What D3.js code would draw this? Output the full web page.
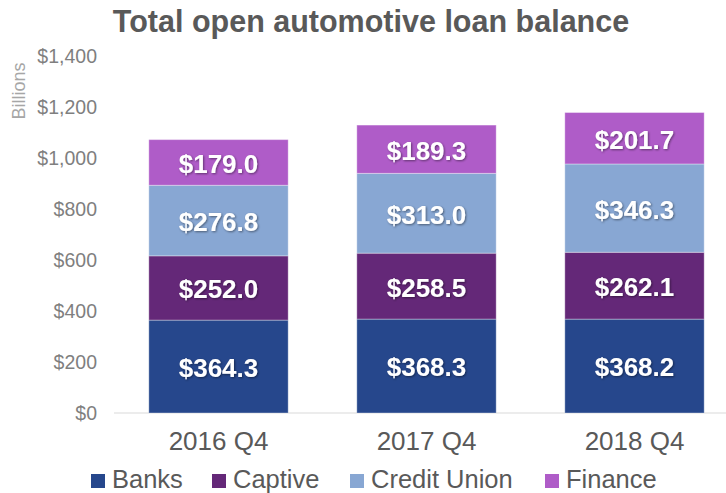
<!DOCTYPE html>
<html>
<head>
<meta charset="utf-8">
<script src="https://cdn.jsdelivr.net/npm/d3@7"></script>
<style>
  body { margin: 0; background: #fff; }
  text { font-family: "Liberation Sans", Arial, sans-serif; }
</style>
</head>
<body>
<div id="chart"></div>
<script>
// data
const quarters = ["2016 Q4", "2017 Q4", "2018 Q4"];
const seriesNames = ["Banks", "Captive", "Credit Union", "Finance"];
const banks = [364.3, 368.3, 368.2];
const captive = [252.0, 258.5, 262.1];
const creditUnion = [276.8, 313.0, 346.3];
const finance = [179.0, 189.3, 201.7];
const yTicks = [0, 200, 400, 600, 800, 1000, 1200, 1400];
const colors = ["#26478c", "#642878", "#88a7d3", "#af5cc8"];

const W = 726, H = 493;
const svg = d3.select("#chart").append("svg")
  .attr("width", W)
  .attr("height", H);

// table for the stack
const rows = quarters.map((q, i) => ({
  quarter: q,
  "Banks": banks[i],
  "Captive": captive[i],
  "Credit Union": creditUnion[i],
  "Finance": finance[i]
}));
const stacked = d3.stack().keys(seriesNames)(rows);

const y = d3.scaleLinear().domain([0, 1400]).range([413, 56]);
const x = d3.scaleBand()
  .domain(quarters)
  .range([114.5, 738.5])
  .paddingInner(0.33)
  .paddingOuter(0.165);

// text shadow for data labels
const defs = svg.append("defs");
const f = defs.append("filter").attr("id", "shadow")
  .attr("x", "-20%").attr("y", "-20%").attr("width", "140%").attr("height", "140%");
f.append("feDropShadow")
  .attr("dx", 1).attr("dy", 1).attr("stdDeviation", 0.8)
  .attr("flood-color", "#000").attr("flood-opacity", 0.45);

// title
svg.append("text")
  .attr("x", 371)
  .attr("y", 32)
  .attr("text-anchor", "middle")
  .style("font-size", "30.5px")
  .style("font-weight", "bold")
  .style("fill", "#595959")
  .text("Total open automotive loan balance");

// y axis
const yAxis = d3.axisLeft(y)
  .tickValues(yTicks)
  .tickSize(0)
  .tickPadding(0)
  .tickFormat(d => "$" + d3.format(",")(d));

const yg = svg.append("g")
  .attr("transform", "translate(97,0)")
  .call(yAxis);
yg.select(".domain").remove();
yg.selectAll("text")
  .attr("dy", "0.35em")
  .style("font-size", "19.5px")
  .style("fill", "#7f7f7f");

svg.append("text")
  .attr("transform", "translate(25,91) rotate(-90)")
  .attr("text-anchor", "middle")
  .style("font-size", "18px")
  .style("fill", "#a6a6a6")
  .text("Billions");

// baseline
svg.append("line")
  .attr("x1", 114).attr("x2", 726)
  .attr("y1", y(0)).attr("y2", y(0))
  .style("stroke", "#d9d9d9")
  .style("stroke-width", 1);

// bars
const layer = svg.selectAll("g.layer")
  .data(stacked)
  .enter()
  .append("g")
  .attr("class", "layer")
  .style("fill", (d, i) => colors[i]);

layer.selectAll("rect")
  .data(d => d)
  .enter()
  .append("rect")
  .attr("x", d => x(d.data.quarter))
  .attr("y", d => y(d[1]))
  .attr("width", x.bandwidth())
  .attr("height", d => y(d[0]) - y(d[1]))
  .style("stroke", "#ffffff")
  .style("stroke-opacity", 0.35)
  .style("stroke-width", 1);

layer.selectAll("text")
  .data(d => d)
  .enter()
  .append("text")
  .attr("x", d => x(d.data.quarter) + x.bandwidth() / 2)
  .attr("y", d => (y(d[0]) + y(d[1])) / 2)
  .attr("dy", "0.4em")
  .attr("text-anchor", "middle")
  .attr("filter", "url(#shadow)")
  .style("font-size", "26px")
  .style("font-weight", "bold")
  .style("fill", "#ffffff")
  .text(d => "$" + (d[1] - d[0]).toFixed(1));

// x axis
const xAxis = d3.axisBottom(x).tickSize(0).tickPadding(0);
const xg = svg.append("g")
  .attr("transform", "translate(0,450)")
  .call(xAxis);
xg.select(".domain").remove();
xg.selectAll("text")
  .attr("y", 0)
  .attr("dy", 0)
  .style("font-size", "26px")
  .style("fill", "#595959");

// legend
const legendX = [91, 212, 350, 545];
const legend = svg.selectAll("g.legend")
  .data(seriesNames)
  .enter()
  .append("g")
  .attr("class", "legend")
  .attr("transform", (d, i) => `translate(${legendX[i]},474)`);

legend.append("rect")
  .attr("width", 14)
  .attr("height", 14)
  .style("fill", (d, i) => colors[i]);

legend.append("text")
  .attr("x", 21)
  .attr("y", 14)
  .style("font-size", "25.5px")
  .style("fill", "#595959")
  .text(d => d);
</script>
</body>
</html>
